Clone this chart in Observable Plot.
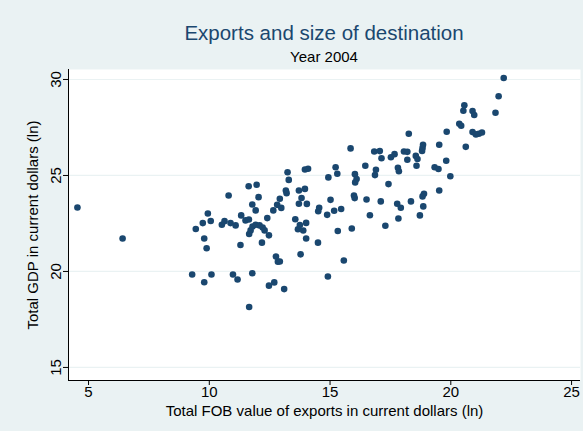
<!DOCTYPE html>
<html>
<head>
<meta charset="utf-8">
<script src="https://cdn.jsdelivr.net/npm/d3@7"></script>
<script src="https://cdn.jsdelivr.net/npm/@observablehq/plot@0.6"></script>
<style>
  html, body { margin: 0; padding: 0; background: #eaf2f3; }
  #wrap { width: 583px; height: 431px; position: relative; font-family: "Liberation Sans", Arial, sans-serif; }
  #head { height: 69px; width: 583px; position: relative; }
  #title { position: absolute; left: 68px; width: 512px; top: 21px; line-height: 24px; text-align: center; font-size: 20.5px; color: #1a476f; }
  #subtitle { position: absolute; left: 68px; width: 512px; top: 48px; line-height: 18px; text-align: center; font-size: 15px; color: #000; }
  svg { display: block; }
</style>
</head>
<body>
<div id="wrap">
  <div id="head">
    <div id="title">Exports and size of destination</div>
    <div id="subtitle">Year 2004</div>
  </div>
  <div id="chart"></div>
</div>
<script>
// Log of total FOB exports (x) and log of destination GDP (y), one entry per destination
const exportsLn = [
  4.54, 6.41, 9.29, 9.44, 9.73, 9.79, 9.79, 9.89, 9.94, 10.06,
  10.09, 10.52, 10.63, 10.80, 10.88, 10.98, 11.09, 11.17, 11.29, 11.32,
  11.50, 11.63, 11.64, 11.65, 11.78, 11.78, 11.92, 11.96, 12.04, 11.65,
  11.71, 11.79, 11.92, 12.08, 12.21, 12.29, 12.47, 12.18, 12.40, 12.47,
  12.65, 12.69, 12.76, 12.84, 12.92, 12.81, 12.98, 12.92, 13.10, 13.17,
  13.20, 13.24, 13.29, 13.56, 13.67, 13.71, 13.71, 13.75, 13.78, 13.82,
  13.89, 13.96, 13.96, 14.01, 14.01, 14.04, 14.09, 14.50, 14.51, 14.55,
  14.88, 14.91, 14.93, 15.02, 15.17, 15.23, 15.30, 15.32, 15.46, 15.57,
  15.85, 15.90, 15.99, 16.02, 16.03, 16.10, 16.04, 16.46, 16.51, 16.65,
  16.83, 17.06, 16.90, 16.86, 17.10, 17.13, 17.29, 17.42, 17.52, 17.67,
  17.78, 17.81, 17.85, 17.83, 17.93, 18.06, 18.20, 18.20, 18.26, 18.35,
  18.55, 18.62, 18.58, 18.72, 18.81, 18.83, 18.85, 18.86, 18.89, 18.83,
  19.33, 19.49, 19.52, 19.52, 19.81, 19.83, 19.98, 20.35, 20.43, 20.52,
  20.56, 20.62, 20.90, 20.97, 20.90, 21.04, 21.16, 21.29, 21.85, 21.98,
  22.19
];
const gdpLn = [
  23.33, 21.72, 19.84, 22.21, 22.52, 21.72, 19.44, 21.21, 23.02, 22.63,
  19.84, 22.43, 22.62, 23.96, 22.52, 19.84, 22.40, 19.58, 21.38, 22.92,
  22.66, 24.44, 22.71, 18.15, 19.91, 23.49, 23.18, 24.52, 23.87, 21.95,
  22.14, 22.34, 22.43, 22.40, 22.29, 22.14, 21.88, 21.50, 22.78, 19.26,
  23.18, 19.43, 20.78, 20.51, 20.52, 23.47, 23.31, 23.79, 19.08, 24.22,
  24.08, 25.17, 24.77, 22.72, 22.20, 24.22, 23.53, 22.42, 20.89, 23.83,
  22.13, 24.30, 25.31, 22.53, 21.72, 23.52, 25.35, 21.50, 23.14, 23.32,
  22.95, 19.74, 24.90, 23.73, 23.16, 25.43, 25.09, 22.11, 23.25, 20.57,
  26.41, 22.24, 23.96, 23.82, 25.07, 24.81, 24.64, 25.51, 23.75, 22.93,
  26.25, 26.27, 25.30, 25.02, 23.65, 25.90, 22.38, 24.55, 25.95, 26.11,
  23.53, 25.40, 25.22, 22.76, 23.32, 26.25, 26.23, 25.82, 27.17, 23.65,
  26.02, 25.86, 25.51, 22.92, 26.28, 26.43, 26.60, 23.39, 24.05, 23.91,
  25.43, 25.34, 26.60, 24.22, 25.77, 27.28, 24.96, 27.69, 27.59, 28.37,
  28.66, 26.49, 28.36, 28.15, 27.26, 27.14, 27.17, 27.24, 28.27, 29.13,
  30.08
];

const xTicks = [5, 10, 15, 20, 25];
const yTicks = [15, 20, 25, 30];
const xDomain = [4.17, 25.37];
const yDomain = [14.32, 30.52];

const navy = "#1a476f";
const rows = exportsLn.map((x, i) => ({x, y: gdpLn[i]}));

const chart = Plot.plot({
  width: 583,
  height: 362,
  marginLeft: 68,
  marginRight: 3,
  marginTop: 0,
  marginBottom: 51,
  style: {fontFamily: "'Liberation Sans', Arial, sans-serif", fontSize: "15px", background: "transparent", color: "#000"},
  x: {domain: xDomain, ticks: xTicks},
  y: {domain: yDomain, ticks: yTicks},
  marks: [
    Plot.frame({fill: "white", stroke: null}),
    Plot.gridY(yTicks, {stroke: "#eaf2f3", strokeOpacity: 1, strokeWidth: 1.2}),
    Plot.ruleX([xDomain[0]], {stroke: "#000", strokeWidth: 1}),
    Plot.ruleY([yDomain[0]], {stroke: "#000", strokeWidth: 1}),
    Plot.axisX(xTicks, {tickSize: 5, tickPadding: 1, fontSize: 15, label: "Total FOB value of exports in current dollars (ln)", labelAnchor: "center", labelArrow: "none", labelOffset: 35}),
    Plot.axisY(yTicks, {tickSize: 5, tickPadding: 3, tickRotate: -90, fontSize: 15, label: "Total GDP in current dollars (ln)", labelAnchor: "center", labelArrow: "none", labelOffset: 41}),
    Plot.dot(rows, {x: "x", y: "y", r: 3.3, fill: navy, stroke: null})
  ]
});
document.getElementById("chart").appendChild(chart);
</script>
</body>
</html>
